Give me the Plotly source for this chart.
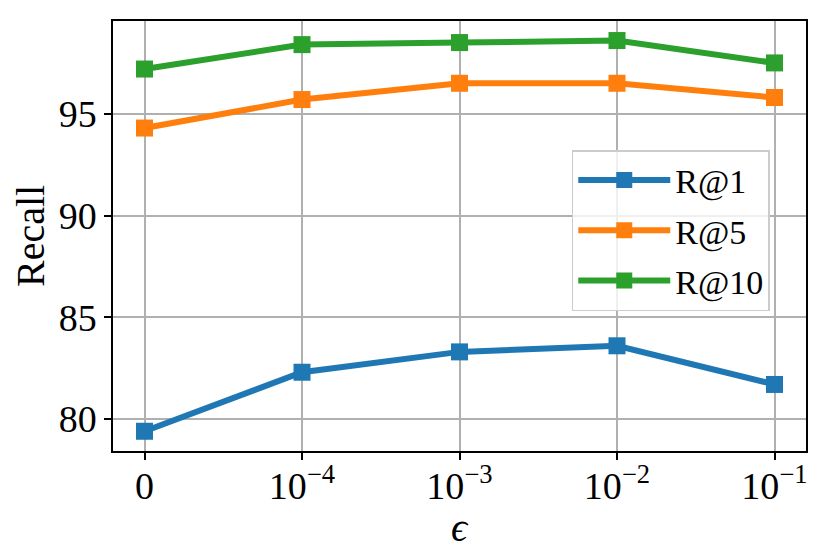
import plotly.graph_objects as go

# epsilon settings along the x axis
eps_labels = ["0", "10<sup>−4</sup>", "10<sup>−3</sup>", "10<sup>−2</sup>", "10<sup>−1</sup>"]

# recall values per metric
r_at_1 = [79.4, 82.3, 83.3, 83.6, 81.7]
r_at_5 = [94.3, 95.7, 96.5, 96.5, 95.8]
r_at_10 = [97.2, 98.4, 98.5, 98.6, 97.5]

series_names = ["R@1", "R@5", "R@10"]
series_colors = ["#1f77b4", "#ff7f0e", "#2ca02c"]

x_pos = list(range(len(eps_labels)))
FONT = "Liberation Serif"

fig = go.Figure()
for name, vals, col in zip(series_names, [r_at_1, r_at_5, r_at_10], series_colors):
    fig.add_trace(go.Scatter(
        x=x_pos, y=vals, name=name, mode="lines+markers",
        legendgroup=name,
        line=dict(color=col, width=6),
        marker=dict(symbol="square", size=17, color=col),
    ))

axis_common = dict(
    showline=True, linecolor="black", linewidth=1.5, mirror=True,
    ticks="outside", ticklen=7, tickwidth=1.5, tickcolor="black",
    showgrid=True, gridcolor="#b0b0b0", gridwidth=1.5,
    zeroline=False, automargin=False,
    tickfont=dict(family=FONT, size=38, color="black"),
)

# page body keeps its default 8px margin, so the figure is a bit smaller
fig.update_layout(
    width=822, height=552,
    margin=dict(l=105, r=24, t=13, b=109),
    paper_bgcolor="white", plot_bgcolor="white",
    font=dict(family=FONT, color="black"),
    showlegend=True,
    xaxis=dict(
        axis_common,
        tickmode="array", tickvals=x_pos, ticktext=eps_labels,
        range=[-0.2, 4.2], ticklabelstandoff=-6,
    ),
    yaxis=dict(
        axis_common,
        tickmode="array", tickvals=[80, 85, 90, 95],
        range=[78.43, 99.56],
    ),
    legend=dict(
        x=0.662, y=0.70, xanchor="left", yanchor="top",
        bgcolor="rgba(255,255,255,0.8)", bordercolor="#cccccc", borderwidth=1.5,
        font=dict(family=FONT, size=34, color="black"),
        itemwidth=92, tracegroupgap=3,
        entrywidth=100, entrywidthmode="pixels",
    ),
    annotations=[
        dict(text="<i>ϵ</i>", xref="paper", yref="paper", x=0.5, y=-0.177,
             xanchor="center", yanchor="middle", showarrow=False,
             font=dict(family=FONT, size=40, color="black")),
        dict(text="Recall", xref="paper", yref="paper", x=-0.1198, y=0.5,
             xanchor="center", yanchor="middle", textangle=-90, showarrow=False,
             font=dict(family=FONT, size=40, color="black")),
    ],
)

fig.write_html("out.html")
